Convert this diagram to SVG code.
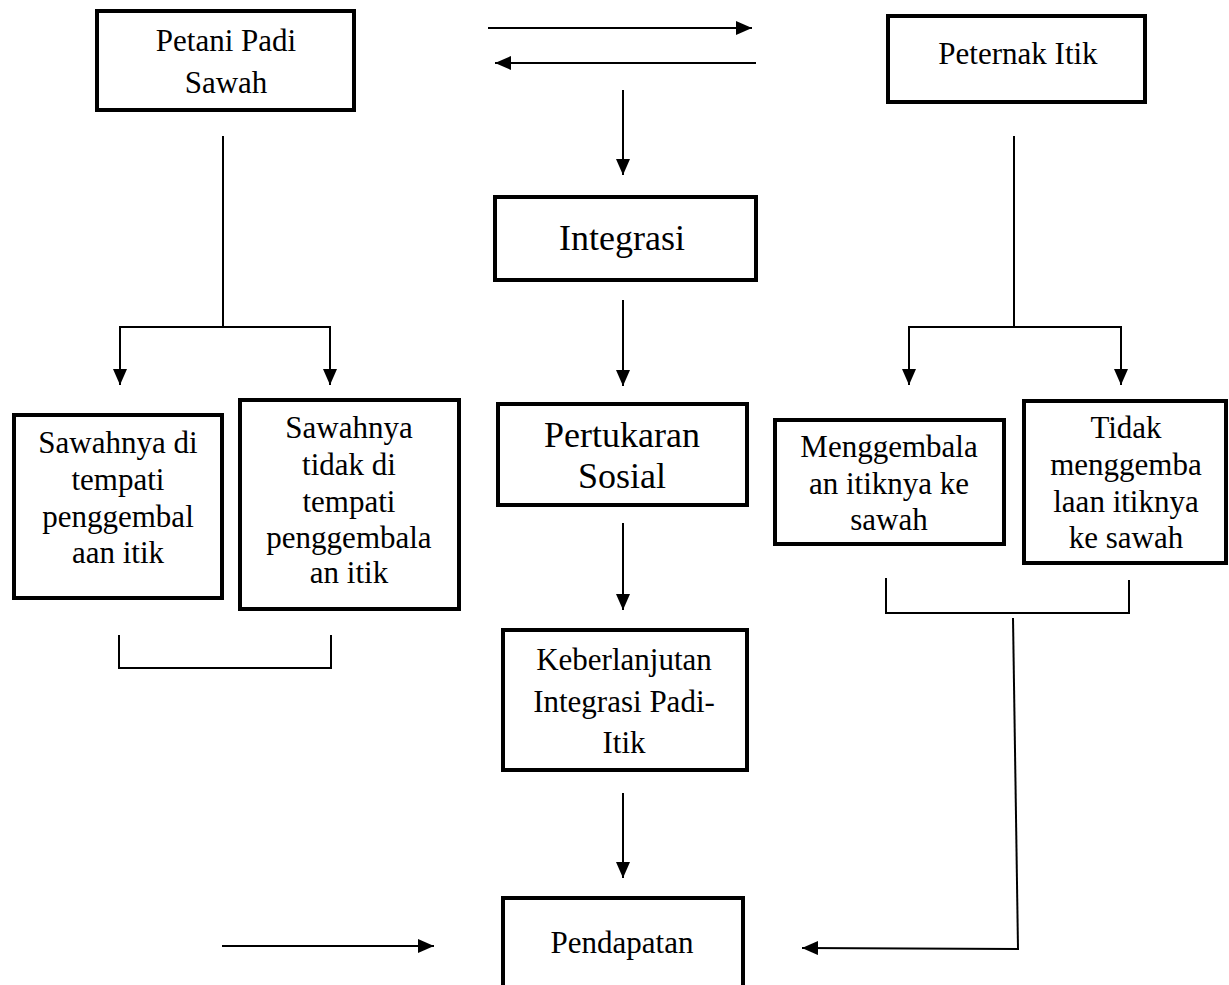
<svg xmlns="http://www.w3.org/2000/svg" width="1229" height="985" viewBox="0 0 1229 985">
<defs>
<marker id="ah" viewBox="0 0 16 14" refX="16" refY="7" markerWidth="16" markerHeight="14" markerUnits="userSpaceOnUse" orient="auto">
<path d="M0,0 L16,7 L0,14 z" fill="#000"/>
</marker>
<style>
.box{fill:#fff;stroke:#000;stroke-width:4}
.t{font-family:"Liberation Serif","Times New Roman",serif;font-size:31px;fill:#000;text-anchor:middle}
.tl{font-size:36px}
.c{fill:none;stroke:#000;stroke-width:2}
.a{fill:none;stroke:#000;stroke-width:2;marker-end:url(#ah)}
</style>
</defs>
<rect width="1229" height="985" fill="#fff"/>
<g id="connectors">
<line class="a" x1="488" y1="28" x2="752" y2="28"/>
<line class="a" x1="756" y1="63" x2="495" y2="63"/>
<line class="a" x1="623" y1="90" x2="623" y2="175"/>
<line class="a" x1="623" y1="300" x2="623" y2="386"/>
<line class="a" x1="623" y1="523" x2="623" y2="610"/>
<line class="a" x1="623" y1="793" x2="623" y2="878"/>
<line class="a" x1="222" y1="946" x2="434" y2="946"/>
<line class="c" x1="1013" y1="618" x2="1018" y2="949"/>
<line class="a" x1="1019" y1="949" x2="802" y2="948"/>
<line class="c" x1="223" y1="136" x2="223" y2="327"/>
<line class="c" x1="119" y1="327" x2="331" y2="327"/>
<line class="a" x1="120" y1="326" x2="120" y2="385"/>
<line class="a" x1="330" y1="326" x2="330" y2="385"/>
<line class="c" x1="1014" y1="136" x2="1014" y2="327"/>
<line class="c" x1="908" y1="327" x2="1122" y2="327"/>
<line class="a" x1="909" y1="326" x2="909" y2="385"/>
<line class="a" x1="1121" y1="326" x2="1121" y2="385"/>
<path class="c" d="M119,635 V668 H331 V635"/>
<path class="c" d="M886,578 V613 H1129 V580"/>
</g>
<g id="petani">
<rect class="box" x="97" y="11" width="257" height="99"/>
<text class="t" x="226" y="51">Petani Padi</text>
<text class="t" x="226" y="93">Sawah</text>
</g>
<g id="peternak">
<rect class="box" x="888" y="16" width="257" height="86"/>
<text class="t" x="1018" y="64">Peternak Itik</text>
</g>
<g id="integrasi">
<rect class="box" x="495" y="197" width="261" height="83"/>
<text class="t tl" x="622" y="250">Integrasi</text>
</g>
<g id="pertukaran">
<rect class="box" x="498" y="404" width="249" height="101"/>
<text class="t tl" x="622" y="447">Pertukaran</text>
<text class="t tl" x="622" y="488">Sosial</text>
</g>
<g id="keberlanjutan">
<rect class="box" x="503" y="630" width="244" height="140"/>
<text class="t" x="624" y="670">Keberlanjutan</text>
<text class="t" x="624" y="712">Integrasi Padi-</text>
<text class="t" x="624" y="753">Itik</text>
</g>
<g id="pendapatan">
<rect class="box" x="503" y="898" width="240" height="100"/>
<text class="t" x="622" y="953">Pendapatan</text>
</g>
<g id="sawah-ditempati">
<rect class="box" x="14" y="415" width="208" height="183"/>
<text class="t" x="118" y="453">Sawahnya di</text>
<text class="t" x="118" y="490">tempati</text>
<text class="t" x="118" y="527">penggembal</text>
<text class="t" x="118" y="563">aan itik</text>
</g>
<g id="sawah-tidak">
<rect class="box" x="240" y="400" width="219" height="209"/>
<text class="t" x="349" y="438">Sawahnya</text>
<text class="t" x="349" y="475">tidak di</text>
<text class="t" x="349" y="512">tempati</text>
<text class="t" x="349" y="548">penggembala</text>
<text class="t" x="349" y="583">an itik</text>
</g>
<g id="menggembala">
<rect class="box" x="775" y="420" width="229" height="124"/>
<text class="t" x="889" y="457">Menggembala</text>
<text class="t" x="889" y="494">an itiknya ke</text>
<text class="t" x="889" y="530">sawah</text>
</g>
<g id="tidak-menggembala">
<rect class="box" x="1024" y="401" width="202" height="162"/>
<text class="t" x="1126" y="438">Tidak</text>
<text class="t" x="1126" y="475">menggemba</text>
<text class="t" x="1126" y="512">laan itiknya</text>
<text class="t" x="1126" y="548">ke sawah</text>
</g>
</svg>
